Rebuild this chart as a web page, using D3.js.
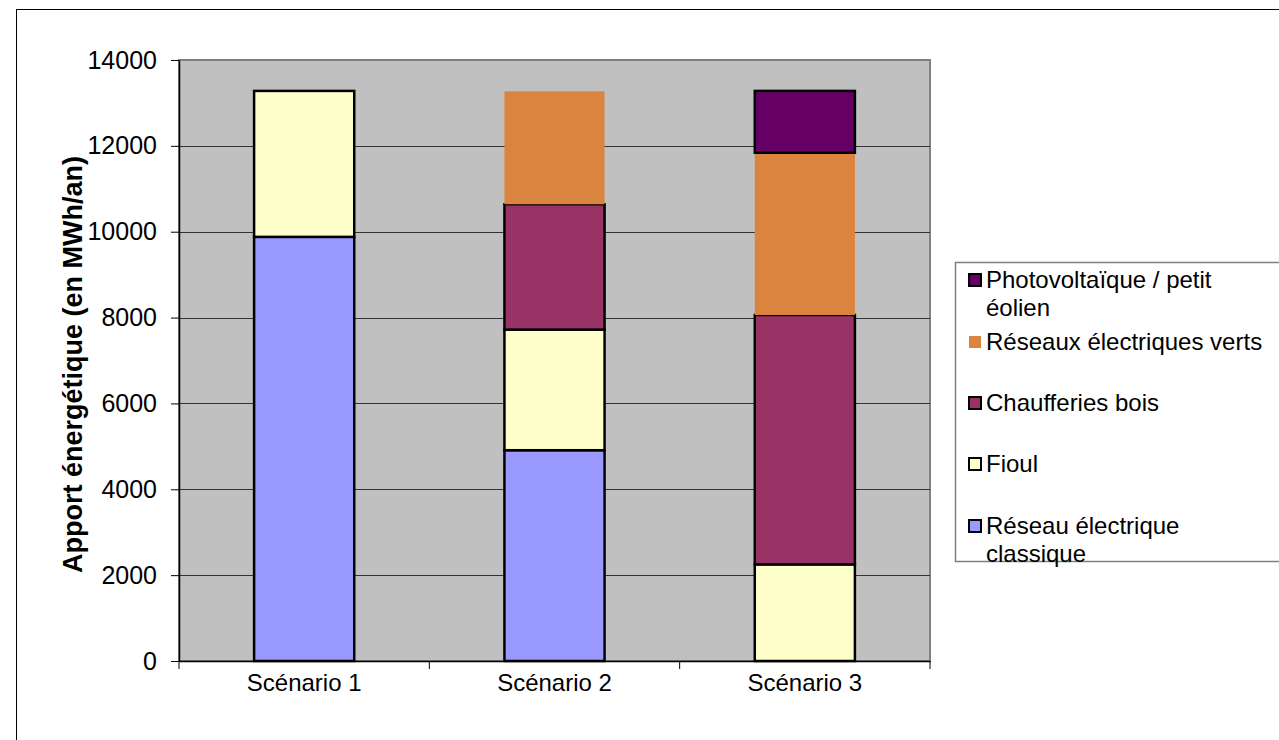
<!DOCTYPE html>
<html>
<head>
<meta charset="utf-8">
<script src="https://cdn.jsdelivr.net/npm/d3@7"></script>
<style>
  body { margin: 0; background: #fff; }
  text { font-family: "Liberation Sans", Arial, sans-serif; fill: #000; }
</style>
</head>
<body>
<div id="chart"></div>
<script>
// categories and stacked series (MWh/an), bottom to top
const scenarios = ["Scénario 1", "Scénario 2", "Scénario 3"];
const seriesNames = ["Réseau électrique classique", "Fioul", "Chaufferies bois",
                     "Réseaux électriques verts", "Photovoltaïque / petit éolien"];
const reseauClassique = [9880, 4910, 0];
const fioul = [3400, 2810, 2250];
const chaufferiesBois = [0, 2920, 5810];
const reseauxVerts = [0, 2630, 3780];
const photovoltaique = [0, 0, 1440];
const yTicks = [0, 2000, 4000, 6000, 8000, 10000, 12000, 14000];

const colors = ["#9999FF", "#FFFFCC", "#993366", "#DA843F", "#660066"];
const outlined = [true, true, true, false, true];

// legend lines (top to bottom)
const legendLines = [
  ["Photovoltaïque / petit", "éolien"],
  ["Réseaux électriques verts"],
  ["Chaufferies bois"],
  ["Fioul"],
  ["Réseau électrique", "classique"]
];
const legendIdx = [4, 3, 2, 1, 0];
const legendY = [280, 342, 403, 464, 526];

const table = scenarios.map((s, i) => ({
  name: s,
  [seriesNames[0]]: reseauClassique[i],
  [seriesNames[1]]: fioul[i],
  [seriesNames[2]]: chaufferiesBois[i],
  [seriesNames[3]]: reseauxVerts[i],
  [seriesNames[4]]: photovoltaique[i]
}));

const W = 1279, H = 740;
const plot = { left: 179, right: 930, top: 60, bottom: 661 };

const svg = d3.select("#chart").append("svg")
  .attr("width", W).attr("height", H);

// chart outer border
svg.append("rect")
  .attr("x", 16.5).attr("y", 9.5)
  .attr("width", W + 10).attr("height", H + 10)
  .attr("fill", "none").attr("stroke", "#000").attr("stroke-width", 1);

const x = d3.scaleBand()
  .domain(scenarios)
  .range([plot.left, plot.right])
  .paddingInner(0.6).paddingOuter(0.3);

const y = d3.scaleLinear()
  .domain([0, 14000])
  .range([plot.bottom, plot.top]);

// plot background
svg.append("rect")
  .attr("x", plot.left).attr("y", plot.top)
  .attr("width", plot.right - plot.left).attr("height", plot.bottom - plot.top)
  .attr("fill", "#C0C0C0")
  .attr("stroke", "#808080").attr("stroke-width", 2);

// gridlines
svg.append("g")
  .selectAll("line")
  .data(yTicks.filter(t => t > 0 && t < 14000))
  .enter().append("line")
    .attr("x1", plot.left).attr("x2", plot.right)
    .attr("y1", d => Math.round(y(d)) + 0.5).attr("y2", d => Math.round(y(d)) + 0.5)
    .attr("stroke", "#333").attr("stroke-width", 1);

// stacked bars
const stack = d3.stack().keys(seriesNames);
const layers = stack(table);

svg.append("g")
  .selectAll("g")
  .data(layers)
  .enter().append("g")
    .attr("fill", (d, i) => colors[i])
    .attr("stroke", (d, i) => outlined[i] ? "#000" : "none")
    .attr("stroke-width", 2.5)
  .selectAll("rect")
  .data(d => d.filter(v => v[1] - v[0] > 0))
  .enter().append("rect")
    .attr("x", d => x(d.data.name))
    .attr("y", d => y(d[1]))
    .attr("width", x.bandwidth())
    .attr("height", d => y(d[0]) - y(d[1]));

// y axis
const yAxis = svg.append("g")
  .attr("transform", "translate(" + plot.left + ",0)")
  .call(d3.axisLeft(y).tickValues(yTicks).tickFormat(d3.format("d"))
    .tickSize(8).tickSizeOuter(0).tickPadding(14));
yAxis.select(".domain").attr("stroke", "#000").attr("stroke-width", 1.5);
yAxis.selectAll("text")
  .style("font-size", "25px")
  .style("font-family", "'Liberation Sans', Arial, sans-serif");

// x axis
const xAxis = svg.append("g")
  .attr("transform", "translate(0," + plot.bottom + ")")
  .call(d3.axisBottom(x).tickSize(0).tickPadding(13));
xAxis.select(".domain").attr("stroke", "#000").attr("stroke-width", 1.5);
xAxis.selectAll("text")
  .style("font-size", "24px")
  .style("font-family", "'Liberation Sans', Arial, sans-serif");

// category separator ticks
const step = x.step();
svg.append("g")
  .selectAll("line")
  .data(d3.range(scenarios.length + 1))
  .enter().append("line")
    .attr("x1", i => plot.left + i * step).attr("x2", i => plot.left + i * step)
    .attr("y1", plot.bottom).attr("y2", plot.bottom + 8)
    .attr("stroke", "#000");

// y axis title
svg.append("text")
  .attr("transform", "translate(82," + ((plot.top + plot.bottom) / 2 + 4) + ") rotate(-90)")
  .attr("text-anchor", "middle")
  .style("font-size", "27px")
  .style("font-weight", "bold")
  .text("Apport énergétique (en MWh/an)");

// legend
svg.append("rect")
  .attr("x", 955.5).attr("y", 262.5)
  .attr("width", 400).attr("height", 299)
  .attr("fill", "#fff").attr("stroke", "#808080").attr("stroke-width", 1.5);

const legend = svg.append("g")
  .selectAll("g")
  .data(legendLines)
  .enter().append("g")
    .attr("transform", (d, i) => "translate(968," + legendY[i] + ")");

legend.append("rect")
  .attr("x", 1).attr("y", -6)
  .attr("width", 12).attr("height", 12)
  .attr("fill", (d, i) => colors[legendIdx[i]])
  .attr("stroke", (d, i) => outlined[legendIdx[i]] ? "#000" : "none")
  .attr("stroke-width", 2);

legend.append("text")
  .attr("x", 18)
  .style("font-size", "24px")
  .selectAll("tspan")
  .data(d => d)
  .enter().append("tspan")
    .attr("x", 18)
    .attr("y", (d, j) => j * 28)
    .attr("dy", "0.35em")
    .text(d => d);
</script>
</body>
</html>
